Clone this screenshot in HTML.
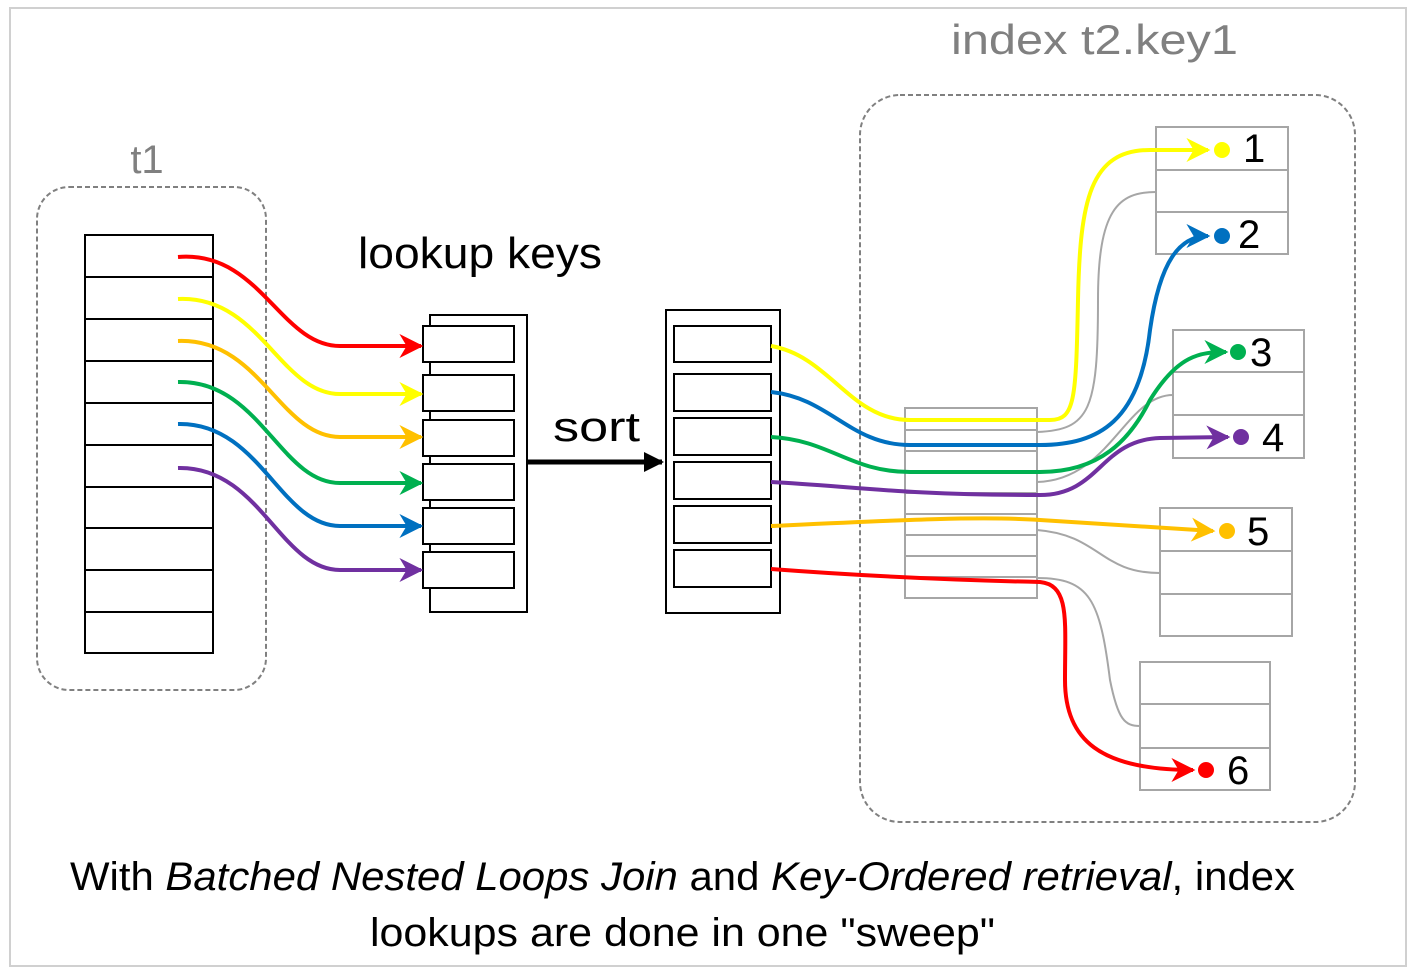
<!DOCTYPE html>
<html><head><meta charset="utf-8"><style>
html,body{margin:0;padding:0;background:#fff;width:1416px;height:976px;overflow:hidden}
svg{display:block}
</style></head><body>
<svg width="1416" height="976" viewBox="0 0 1416 976" xmlns="http://www.w3.org/2000/svg" font-family="Liberation Sans, sans-serif">
<defs>
<marker id="mr" viewBox="0 0 10 10" refX="9" refY="5" markerWidth="6" markerHeight="6" orient="auto"><path d="M0,0 L10,5 L0,10 L3,5 z" fill="#f00"/></marker>
<marker id="my" viewBox="0 0 10 10" refX="9" refY="5" markerWidth="6" markerHeight="6" orient="auto"><path d="M0,0 L10,5 L0,10 L3,5 z" fill="#ff0"/></marker>
<marker id="mo" viewBox="0 0 10 10" refX="9" refY="5" markerWidth="6" markerHeight="6" orient="auto"><path d="M0,0 L10,5 L0,10 L3,5 z" fill="#ffc000"/></marker>
<marker id="mg" viewBox="0 0 10 10" refX="9" refY="5" markerWidth="6" markerHeight="6" orient="auto"><path d="M0,0 L10,5 L0,10 L3,5 z" fill="#00b050"/></marker>
<marker id="mb" viewBox="0 0 10 10" refX="9" refY="5" markerWidth="6" markerHeight="6" orient="auto"><path d="M0,0 L10,5 L0,10 L3,5 z" fill="#0070c0"/></marker>
<marker id="mp" viewBox="0 0 10 10" refX="9" refY="5" markerWidth="6" markerHeight="6" orient="auto"><path d="M0,0 L10,5 L0,10 L3,5 z" fill="#7030a0"/></marker>
<marker id="mk" viewBox="0 0 10 10" refX="9" refY="5" markerWidth="4" markerHeight="4" orient="auto"><path d="M0,0 L10,5 L0,10 z" fill="#000"/></marker>
</defs>
<rect x="10" y="8" width="1396" height="958" fill="#fff" stroke="#d0d0d0" stroke-width="2"/>

<text x="147" y="173" font-size="40" fill="#808080" text-anchor="middle">t1</text>
<rect x="37" y="187" width="229" height="503" rx="32" fill="none" stroke="#808080" stroke-width="2" stroke-dasharray="5,3"/>
<g stroke="#000" stroke-width="2" fill="#fff">
<rect x="85" y="235" width="128" height="418"/>
<path d="M85,277H213M85,319H213M85,361H213M85,403H213M85,445H213M85,487H213M85,528H213M85,570H213M85,612H213" fill="none"/>
</g>

<text x="358" y="268" font-size="44" fill="#000" textLength="244" lengthAdjust="spacingAndGlyphs">lookup keys</text>
<g stroke="#000" stroke-width="2" fill="#fff">
<rect x="430" y="315" width="97" height="297"/>
<rect x="423" y="326" width="91" height="36"/><rect x="423" y="375" width="91" height="36"/>
<rect x="423" y="420" width="91" height="36"/><rect x="423" y="464" width="91" height="36"/>
<rect x="423" y="508" width="91" height="36"/><rect x="423" y="552" width="91" height="36"/>
</g>
<g fill="none" stroke-width="4">
<path d="M178,257 C260,250 280,346 340,346 L421,346" stroke="#f00" marker-end="url(#mr)"/>
<path d="M178,299 C260,295 280,394 340,394 L421,394" stroke="#ff0" marker-end="url(#my)"/>
<path d="M178,341 C260,338 280,437 340,437 L421,437" stroke="#ffc000" marker-end="url(#mo)"/>
<path d="M178,382 C260,380 280,483 340,483 L421,483" stroke="#00b050" marker-end="url(#mg)"/>
<path d="M178,424 C260,422 280,526 340,526 L421,526" stroke="#0070c0" marker-end="url(#mb)"/>
<path d="M178,468 C260,466 280,570 340,570 L421,570" stroke="#7030a0" marker-end="url(#mp)"/>
</g>

<text x="553" y="441" font-size="42" fill="#000" textLength="87" lengthAdjust="spacingAndGlyphs">sort</text>
<path d="M527,462 L662,462" stroke="#000" stroke-width="5" marker-end="url(#mk)"/>

<g stroke="#000" stroke-width="2" fill="#fff">
<rect x="666" y="310" width="114" height="303"/>
<rect x="674" y="326" width="97" height="36"/><rect x="674" y="374" width="97" height="37"/>
<rect x="674" y="418" width="97" height="37"/><rect x="674" y="462" width="97" height="37"/>
<rect x="674" y="506" width="97" height="37"/><rect x="674" y="550" width="97" height="37"/>
</g>

<text x="951" y="54" font-size="42" fill="#808080" textLength="287" lengthAdjust="spacingAndGlyphs">index t2.key1</text>
<rect x="860" y="95" width="495" height="727" rx="40" fill="none" stroke="#808080" stroke-width="2" stroke-dasharray="5,3"/>

<g stroke="#a6a6a6" stroke-width="2" fill="#fff">
<rect x="905" y="408" width="132" height="190"/>
<path d="M905,430H1037M905,451H1037M905,472H1037M905,493H1037M905,514H1037M905,535H1037M905,556H1037M905,577H1037" fill="none"/>
<rect x="1156" y="127" width="132" height="127"/><path d="M1156,170H1288M1156,212H1288" fill="none"/>
<rect x="1173" y="330" width="131" height="128"/><path d="M1173,372H1304M1173,415H1304" fill="none"/>
<rect x="1160" y="508" width="132" height="128"/><path d="M1160,551H1292M1160,594H1292" fill="none"/>
<rect x="1140" y="662" width="130" height="128"/><path d="M1140,704H1270M1140,748H1270" fill="none"/>
</g>
<g fill="none" stroke="#a6a6a6" stroke-width="2">
<path d="M1037,432 C1090,430 1098,410 1098,300 C1098,210 1118,192 1156,192"/>
<path d="M1037,482 C1110,480 1125,395 1173,395"/>
<path d="M1037,530 C1100,535 1100,573 1160,573"/>
<path d="M1037,578 C1090,578 1100,600 1110,680 C1118,720 1125,726 1140,726"/>
</g>
<g fill="none" stroke-width="4">
<path d="M771,346 C830,356 850,420 910,420 L1050,420 C1075,420 1076,400 1078,300 C1080,200 1090,150 1150,150 L1208,150" stroke="#ff0" marker-end="url(#my)"/>
<path d="M771,392 C830,398 850,445 910,445 L1040,445 C1100,445 1140,420 1150,330 C1160,260 1180,236 1208,236" stroke="#0070c0" marker-end="url(#mb)"/>
<path d="M771,437 C830,440 850,472 910,472 L1040,472 C1100,472 1130,440 1150,400 C1178,355 1200,352 1226,352" stroke="#00b050" marker-end="url(#mg)"/>
<path d="M771,482 C850,486 900,495 1040,495 C1100,495 1100,440 1160,438 L1228,437" stroke="#7030a0" marker-end="url(#mp)"/>
<path d="M771,526 C900,520 980,516 1040,520 L1213,531" stroke="#ffc000" marker-end="url(#mo)"/>
<path d="M771,569 C850,575 950,580 1040,582 C1070,585 1065,620 1065,680 C1065,740 1100,770 1193,770" stroke="#f00" marker-end="url(#mr)"/>
</g>
<circle cx="1222" cy="150" r="8" fill="#ff0"/><circle cx="1222" cy="236" r="8" fill="#0070c0"/>
<circle cx="1238" cy="352" r="8" fill="#00b050"/><circle cx="1241" cy="437" r="8" fill="#7030a0"/>
<circle cx="1227" cy="531" r="8" fill="#ffc000"/><circle cx="1206" cy="770" r="8" fill="#f00"/>
<g font-size="40" fill="#000">
<text x="1243" y="162">1</text><text x="1238" y="248">2</text><text x="1250" y="366">3</text>
<text x="1262" y="451">4</text><text x="1247" y="545">5</text><text x="1227" y="784">6</text>
</g>

<g font-size="40" fill="#000">
<text x="70" y="890" textLength="1225" lengthAdjust="spacingAndGlyphs">With <tspan font-style="italic">Batched Nested Loops Join</tspan> and <tspan font-style="italic">Key-Ordered retrieval</tspan>, index</text>
<text x="370" y="946" textLength="625" lengthAdjust="spacingAndGlyphs">lookups are done in one "sweep"</text>
</g>
</svg>
</body></html>
